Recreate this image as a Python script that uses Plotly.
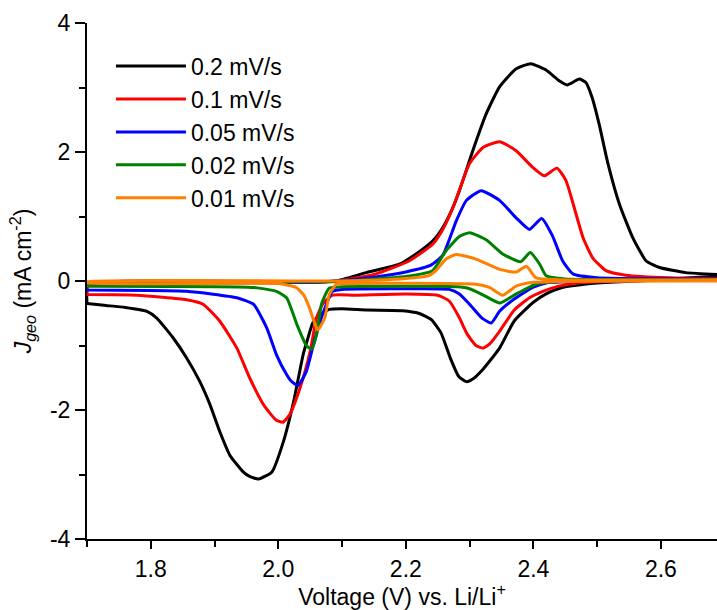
import plotly.graph_objects as go

# ---- data (V vs J, mA cm^-2) ----
labels = ["0.2 mV/s", "0.1 mV/s", "0.05 mV/s", "0.02 mV/s", "0.01 mV/s"]
colors = ["#000000", "#FF0000", "#0000FF", "#008000", "#FF8000"]

# 0.2 mV/s
v02_cath = [2.69, 2.60, 2.52, 2.48, 2.445, 2.42, 2.40, 2.37, 2.347, 2.32, 2.305, 2.295, 2.283, 2.27, 2.255, 2.24, 2.22, 2.195, 2.14, 2.10, 2.08, 2.065, 2.054, 2.046, 2.039, 2.024, 2.008, 1.99, 1.969, 1.955, 1.945, 1.924, 1.908, 1.893, 1.877, 1.856, 1.835, 1.809, 1.794, 1.76, 1.73, 1.70]
j02_cath = [0.08, 0.02, -0.02, -0.05, -0.10, -0.20, -0.33, -0.62, -1.04, -1.38, -1.52, -1.56, -1.48, -1.20, -0.80, -0.60, -0.50, -0.46, -0.45, -0.43, -0.44, -0.52, -0.65, -0.90, -1.14, -1.87, -2.49, -2.96, -3.07, -3.03, -2.96, -2.70, -2.33, -1.92, -1.56, -1.19, -0.88, -0.57, -0.47, -0.41, -0.38, -0.35]
v02_anod = [1.70, 1.701, 1.72, 1.90, 2.05, 2.09, 2.138, 2.19, 2.216, 2.242, 2.258, 2.272, 2.284, 2.305, 2.326, 2.347, 2.373, 2.396, 2.42, 2.441, 2.453, 2.472, 2.482, 2.492, 2.503, 2.517, 2.535, 2.556, 2.577, 2.598, 2.639, 2.69]
j02_anod = [-0.35, -0.08, -0.04, -0.03, -0.02, 0.00, 0.13, 0.26, 0.42, 0.62, 0.83, 1.10, 1.40, 2.02, 2.59, 3.01, 3.29, 3.37, 3.27, 3.10, 3.04, 3.13, 3.08, 2.85, 2.44, 1.82, 1.19, 0.67, 0.31, 0.21, 0.13, 0.10]

# 0.1 mV/s
v01_cath = [2.69, 2.55, 2.47, 2.44, 2.415, 2.394, 2.37, 2.347, 2.332, 2.321, 2.31, 2.296, 2.284, 2.268, 2.25, 2.20, 2.12, 2.085, 2.07, 2.060, 2.050, 2.034, 2.018, 2.007, 1.996, 1.977, 1.955, 1.935, 1.908, 1.882, 1.856, 1.778, 1.70]
j01_cath = [0.03, 0.00, -0.03, -0.08, -0.16, -0.26, -0.45, -0.78, -0.97, -1.04, -1.00, -0.82, -0.57, -0.31, -0.22, -0.20, -0.22, -0.22, -0.35, -0.57, -1.09, -1.66, -2.07, -2.19, -2.15, -1.92, -1.50, -1.04, -0.62, -0.36, -0.29, -0.22, -0.21]
v01_anod = [1.70, 1.701, 1.72, 2.05, 2.09, 2.15, 2.205, 2.242, 2.258, 2.274, 2.30, 2.321, 2.347, 2.373, 2.399, 2.417, 2.437, 2.451, 2.464, 2.478, 2.493, 2.514, 2.545, 2.613, 2.69]
j01_anod = [-0.21, -0.05, -0.03, -0.02, 0.00, 0.10, 0.31, 0.57, 0.80, 1.14, 1.82, 2.07, 2.16, 2.02, 1.76, 1.63, 1.75, 1.56, 1.14, 0.67, 0.36, 0.16, 0.09, 0.05, 0.04]

# 0.05 mV/s
v005_cath = [2.69, 2.50, 2.42, 2.399, 2.37, 2.347, 2.334, 2.32, 2.30, 2.284, 2.268, 2.20, 2.10, 2.085, 2.07, 2.055, 2.044, 2.031, 2.02, 2.013, 1.997, 1.982, 1.961, 1.935, 1.856, 1.70]
j005_cath = [0.02, 0.00, -0.03, -0.10, -0.28, -0.47, -0.65, -0.58, -0.36, -0.20, -0.13, -0.12, -0.13, -0.16, -0.50, -0.99, -1.40, -1.62, -1.55, -1.45, -1.14, -0.73, -0.36, -0.26, -0.16, -0.14]
v005_anod = [1.70, 1.701, 2.05, 2.09, 2.15, 2.20, 2.24, 2.258, 2.279, 2.295, 2.318, 2.347, 2.373, 2.394, 2.413, 2.43, 2.446, 2.462, 2.50, 2.69]
j005_anod = [-0.14, -0.04, -0.02, 0.00, 0.06, 0.14, 0.25, 0.40, 0.93, 1.25, 1.40, 1.25, 0.98, 0.80, 0.97, 0.70, 0.31, 0.11, 0.05, 0.03]

# 0.02 mV/s
v002_cath = [2.69, 2.45, 2.404, 2.385, 2.373, 2.347, 2.32, 2.30, 2.28, 2.10, 2.08, 2.068, 2.060, 2.052, 2.044, 2.029, 2.013, 1.997, 1.961, 1.70]
j002_cath = [0.01, 0.00, -0.05, -0.14, -0.20, -0.34, -0.21, -0.12, -0.09, -0.09, -0.11, -0.35, -0.83, -1.06, -1.00, -0.67, -0.26, -0.16, -0.10, -0.08]
v002_anod = [1.70, 1.701, 2.09, 2.15, 2.20, 2.242, 2.263, 2.284, 2.30, 2.326, 2.352, 2.38, 2.395, 2.41, 2.42, 2.45, 2.69]
j002_anod = [-0.08, -0.03, -0.01, 0.03, 0.07, 0.16, 0.47, 0.69, 0.75, 0.64, 0.42, 0.30, 0.44, 0.26, 0.08, 0.03, 0.02]

# 0.01 mV/s
v001_cath = [2.69, 2.40, 2.373, 2.352, 2.331, 2.31, 2.10, 2.091, 2.080, 2.073, 2.062, 2.055, 2.049, 2.04, 2.028, 2.00, 1.70]
j001_cath = [0.00, -0.02, -0.08, -0.22, -0.10, -0.05, -0.04, -0.05, -0.21, -0.57, -0.76, -0.60, -0.42, -0.22, -0.10, -0.04, -0.03]
v001_anod = [1.70, 2.10, 2.20, 2.235, 2.248, 2.263, 2.279, 2.31, 2.347, 2.373, 2.389, 2.404, 2.44, 2.69]
j001_anod = [-0.01, 0.00, 0.04, 0.08, 0.17, 0.34, 0.41, 0.34, 0.18, 0.14, 0.23, 0.05, 0.02, 0.02]

series = [
    (v02_cath, j02_cath, v02_anod, j02_anod),
    (v01_cath, j01_cath, v01_anod, j01_anod),
    (v005_cath, j005_cath, v005_anod, j005_anod),
    (v002_cath, j002_cath, v002_anod, j002_anod),
    (v001_cath, j001_cath, v001_anod, j001_anod),
]

x_ticks = [1.8, 2.0, 2.2, 2.4, 2.6]
y_ticks = [-4, -2, 0, 2, 4]

FONT = "Liberation Sans, Arial, sans-serif"
FS = 23

fig = go.Figure()
for (vc, jc, va, ja), name, col in zip(series, labels, colors):
    fig.add_trace(go.Scatter(
        x=list(vc) + list(va), y=list(jc) + list(ja),
        mode="lines", name=name,
        line=dict(color=col, width=3, shape="spline", smoothing=0.5),
    ))

fig.update_layout(
    width=717, height=610,
    margin=dict(l=87, r=0, t=23, b=71),
    paper_bgcolor="white", plot_bgcolor="white",
    font=dict(family=FONT, size=FS, color="black"),
    showlegend=True,
    legend=dict(x=0.038, y=0.958, xanchor="left", yanchor="top",
                bgcolor="rgba(0,0,0,0)", font=dict(size=FS, family=FONT),
                itemwidth=70, tracegroupgap=0),
)
fig.update_xaxes(
    range=[1.7, 2.688], tickvals=x_ticks, ticktext=[f"{v:.1f}" for v in x_ticks],
    showgrid=False, zeroline=False, showline=True, linecolor="black", linewidth=2,
    ticks="outside", ticklen=8, tickwidth=2, tickcolor="black",
    minor=dict(tickvals=[1.7, 1.9, 2.1, 2.3, 2.5], ticks="outside", ticklen=6, tickwidth=2, tickcolor="black"),
    title=dict(text="Voltage (V) vs. Li/Li<sup>+</sup>", font=dict(size=FS), standoff=2),
    tickfont=dict(size=FS),
)
fig.update_yaxes(
    range=[-4, 4], tickvals=y_ticks, ticktext=[str(v) for v in y_ticks],
    showgrid=False, zeroline=False, showline=True, linecolor="black", linewidth=2,
    ticks="outside", ticklen=10, tickwidth=2, tickcolor="black",
    minor=dict(tickvals=[-3, -1, 1, 3], ticks="outside", ticklen=6, tickwidth=2, tickcolor="black"),
    title=dict(text="<i>J</i><sub><i>geo</i></sub> (mA cm<sup>-2</sup>)", font=dict(size=FS), standoff=12),
    tickfont=dict(size=FS),
)

fig.write_html("out.html")
